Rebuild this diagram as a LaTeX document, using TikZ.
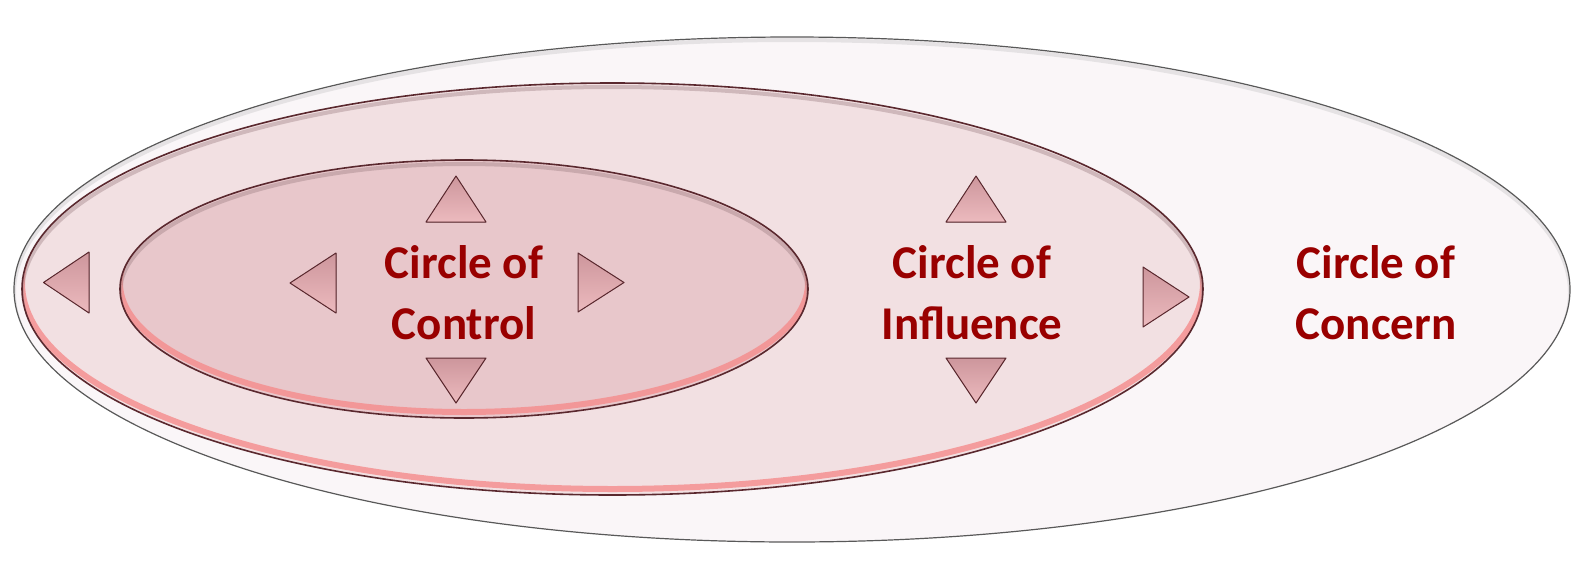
\documentclass[tikz,border=0pt]{standalone}
\usepackage{fontspec}
\setmainfont{Carlito}
\definecolor{txtred}{RGB}{153,0,0}
\definecolor{ringline}{RGB}{90,40,46}
\definecolor{concernfill}{RGB}{250,246,248}
\definecolor{influencefill}{RGB}{242,224,226}
\definecolor{controlfill}{RGB}{232,199,203}
\definecolor{glow}{RGB}{245,140,140}
\definecolor{tritop}{RGB}{205,150,156}
\definecolor{tribot}{RGB}{236,186,190}

\begin{document}
\begin{tikzpicture}[x=0.5pt, y=-0.5pt,
	ring/.style={line width=0.8pt, draw=ringline},
	tri/.style={draw=ringline, line width=0.5pt, top color=tritop, bottom color=tribot, line join=round},
	label/.style={align=center, text=txtred, font=\bfseries\fontsize{23.5}{30.5}\selectfont}]
		\useasboundingbox (0,0) rectangle (1587,563);
		
		% circle of concern
		\fill[concernfill] (792,289.5) ellipse (778 and 252.5);
		\begin{scope}
		\clip (792,289.5) ellipse (778 and 252.5);
		\draw[gray!50, line width=2pt, opacity=0.35] (792,292.5) ellipse (778 and 252.5);
		\end{scope}
		\draw[line width=0.6pt, draw=black!65] (792,289.5) ellipse (778 and 252.5);
		
		% circle of influence
		\fill[influencefill] (612.5,289) ellipse (590.5 and 206);
		\begin{scope}
		\clip (612.5,289) ellipse (590.5 and 206);
		\draw[glow, line width=3pt, opacity=0.8] (612.5,283) ellipse (590.5 and 206);
		\draw[ringline!60, line width=2pt, opacity=0.4] (612.5,293) ellipse (590.5 and 206);
		\end{scope}
		\draw[ring] (612.5,289) ellipse (590.5 and 206);
		
		% circle of control
		\fill[controlfill] (464,289) ellipse (344 and 129);
		\begin{scope}
		\clip (464,289) ellipse (344 and 129);
		\draw[glow, line width=3pt, opacity=0.8] (464,283) ellipse (344 and 129);
		\draw[ringline!60, line width=2pt, opacity=0.4] (464,293) ellipse (344 and 129);
		\end{scope}
		\draw[ring] (464,289) ellipse (344 and 129);
		
		% triangles
		\filldraw[tri] (426,222) -- (456,176) -- (486,222) -- cycle;
		\filldraw[tri] (426,358) -- (456,403) -- (486,358) -- cycle;
		\filldraw[tri] (578,253) -- (624,282.5) -- (578,312) -- cycle;
		\filldraw[tri] (336,253) -- (290,283) -- (336,313) -- cycle;
		\filldraw[tri] (89,252) -- (43.5,282.5) -- (89,313) -- cycle;
		\filldraw[tri] (946,222) -- (976,176) -- (1006,222) -- cycle;
		\filldraw[tri] (946,358) -- (976,403) -- (1006,358) -- cycle;
		\filldraw[tri] (1143,267) -- (1189,297) -- (1143,327) -- cycle;
		
		\node[label] (control) at (464,293) {Circle of\\Control};
		\node[label] (influence) at (972,293) {Circle of\\Influence};
		\node[label] (concern) at (1376,293) {Circle of\\Concern};
		\end{tikzpicture}
\end{document}
